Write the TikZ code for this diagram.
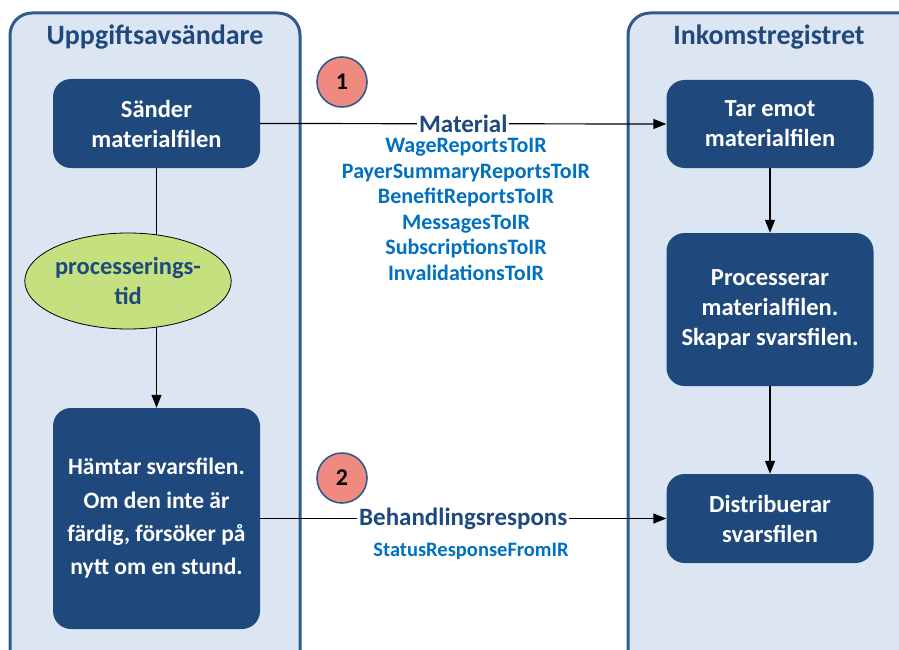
\documentclass[tikz,border=0pt]{standalone}
\usepackage{fontspec}
\setmainfont{Carlito}
\usetikzlibrary{shapes.geometric,arrows.meta}
\definecolor{boxblue}{HTML}{1F497D}
\definecolor{lanefill}{HTML}{DCE6F2}
\definecolor{laneline}{HTML}{2F5A8F}
\definecolor{titleblue}{HTML}{1F497D}
\definecolor{listblue}{HTML}{0070C0}
\definecolor{ellfill}{HTML}{C5E17F}
\definecolor{numfill}{HTML}{F08A80}
\begin{document}
\begin{tikzpicture}[x=1pt,y=-1pt,
  lane/.style={draw=laneline,fill=lanefill,line width=3pt,rounded corners=22pt},
  lanetitle/.style={text=titleblue,font=\bfseries\fontsize{28}{32}\selectfont},
  stepbox/.style={fill=boxblue,rounded corners=18pt,text=white,align=center,
    minimum width=207pt,font=\bfseries\fontsize{24.5}{30}\selectfont,inner sep=0pt},
  numc/.style={circle,draw=laneline,fill=numfill,line width=1.6pt,minimum size=50pt,
    inner sep=0pt,font=\bfseries\fontsize{24}{28}\selectfont},
  conn/.style={draw=black,line width=1.2pt},
  arr/.style={conn,-{Triangle[length=13pt,width=10pt]}},
  flowlabel/.style={fill=white,inner xsep=2pt,inner ysep=0pt,text=titleblue,font=\bfseries\fontsize{25}{28}\selectfont},
  listtext/.style={text=listblue,align=center,font=\bfseries\fontsize{22}{25.5}\selectfont}
]
\useasboundingbox (0,0) rectangle (899,650);
\begin{scope}
  \clip (0,0) rectangle (899,650);
  \path[lane] (10,13) rectangle (300,720);
  \path[lane] (628,13) rectangle (940,720);
\end{scope}
\node[lanetitle] (t1) at (155,37) {Uppgiftsavsändare};
\node[lanetitle] (t2) at (769,37) {Inkomstregistret};

\node[stepbox,minimum height=89pt] (s1) at (156.5,123.5) {Sänder\\materialfilen};
\node[stepbox,minimum height=221pt,font=\bfseries\fontsize{23.5}{33.3}\selectfont] (s2) at (156.5,518.5)
  {Hämtar svarsfilen.\\Om den inte är\\färdig, försöker på\\nytt om en stund.};
\draw[arr] (s1.south) -- (s2.north);
\node[ellipse,draw=black,line width=0.8pt,fill=ellfill,minimum width=184pt,minimum height=96pt,
  inner sep=0pt,align=center,text=titleblue,font=\bfseries\fontsize{24.5}{30}\selectfont]
  (el) at (128,281) {processerings-\\tid};

\node[stepbox,minimum height=88pt] (r1) at (770,124) {Tar emot\\materialfilen};
\node[stepbox,minimum height=153pt] (r2) at (770,309.5) {Processerar\\materialfilen.\\Skapar svarsfilen.};
\node[stepbox,minimum height=89pt] (r3) at (770,518.5) {Distribuerar\\svarsfilen};

\node[numc] (n1) at (342,82) {1};
\node[numc] (n2) at (342,478) {2};

\draw[arr] (r1.south) -- (r2.north);
\draw[arr] (r2.south) -- (r3.north);

\draw[arr] (s1.east) -- (r1.west) node[flowlabel,pos=0.5] (m1) {Material};
\draw[arr] (s2.east |- r3.west) -- (r3.west) node[flowlabel,pos=0.5] (m2) {Behandlingsrespons};

\node[listtext] (l1) at (466,209.5) {WageReportsToIR\\PayerSummaryReportsToIR\\BenefitReportsToIR\\MessagesToIR\\SubscriptionsToIR\\InvalidationsToIR};
\node[listtext,font=\bfseries\fontsize{20.5}{25}\selectfont] (l2) at (471,551) {StatusResponseFromIR};
\end{tikzpicture}
\end{document}
